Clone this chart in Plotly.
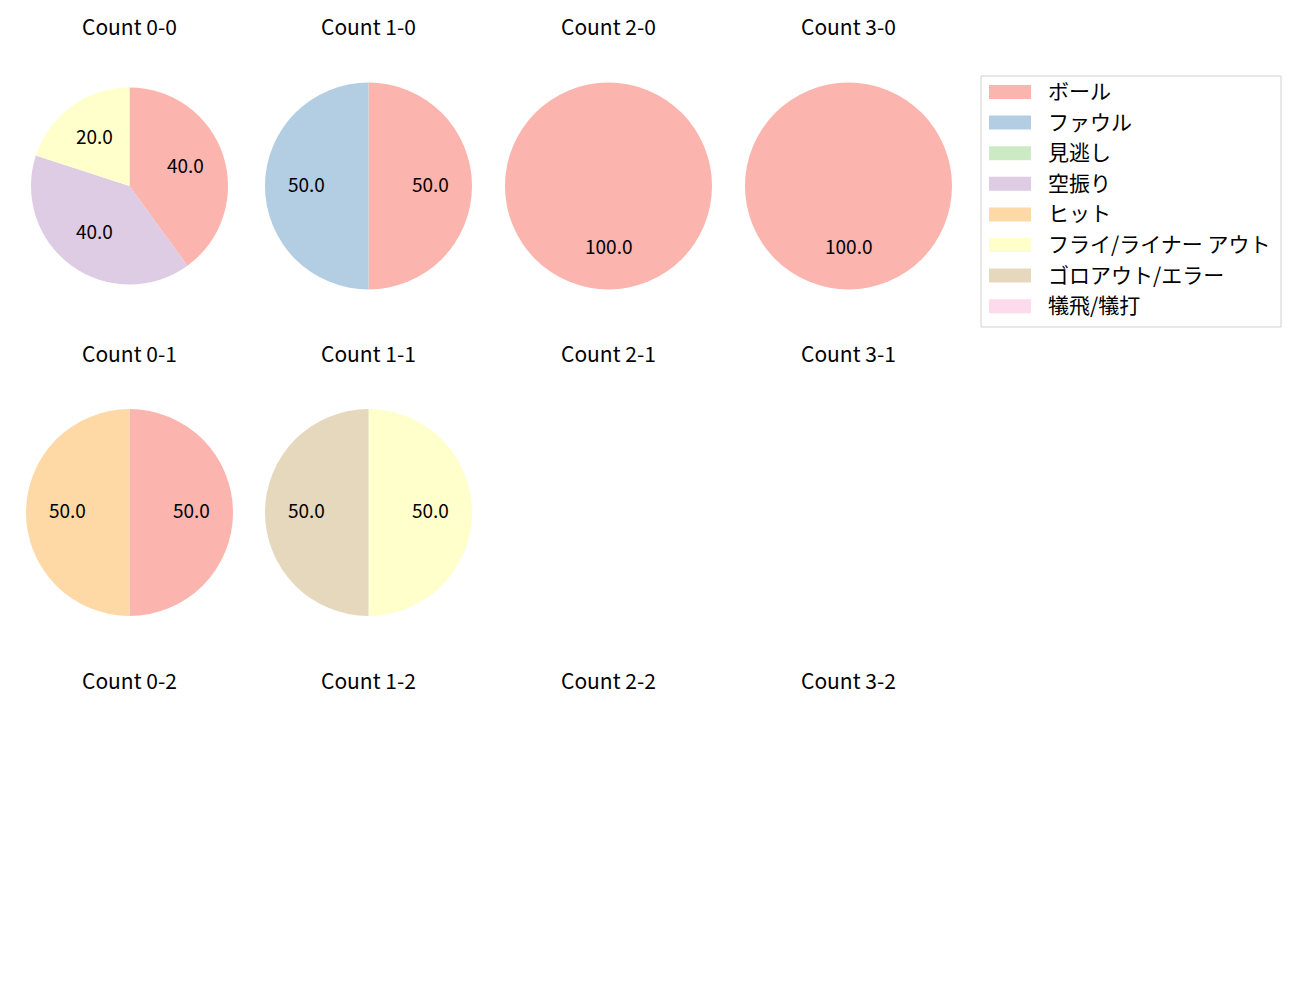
import math
import plotly.graph_objects as go

categories = ["ボール", "ファウル", "見逃し", "空振り", "ヒット",
              "フライ/ライナー アウト", "ゴロアウト/エラー", "犠飛/犠打"]
colors = ["#fbb4ae", "#b3cde3", "#ccebc5", "#decbe4", "#fed9a6",
          "#ffffcc", "#e5d8bd", "#fddaec"]

count_titles = [["Count 0-0", "Count 1-0", "Count 2-0", "Count 3-0"],
                ["Count 0-1", "Count 1-1", "Count 2-1", "Count 3-1"],
                ["Count 0-2", "Count 1-2", "Count 2-2", "Count 3-2"]]

values_0_0 = [40, 0, 0, 40, 0, 20, 0, 0]
values_1_0 = [50, 50, 0, 0, 0, 0, 0, 0]
values_2_0 = [100, 0, 0, 0, 0, 0, 0, 0]
values_3_0 = [100, 0, 0, 0, 0, 0, 0, 0]
values_0_1 = [50, 0, 0, 0, 50, 0, 0, 0]
values_1_1 = [0, 0, 0, 0, 0, 50, 50, 0]

pie_data = {
    (0, 0): values_0_0, (0, 1): values_1_0, (0, 2): values_2_0, (0, 3): values_3_0,
    (1, 0): values_0_1, (1, 1): values_1_1,
}

W, H = 1300, 1000
FONT = "Noto Sans CJK JP, Noto Sans, sans-serif"
col_cx = [129.5, 368.5, 608.5, 848.5]
row_cy = [186, 512.5, 839]
title_y = [26, 353, 680]
radius = {(0, 0): 98.5}
default_r = 103.5
TEXT_SHIFT = 3  # font baseline compensation (px)

fig = go.Figure()
annotations = []
shapes = []

for (r, c), vals in pie_data.items():
    cx, cy = col_cx[c], row_cy[r]
    rad = radius.get((r, c), default_r)
    labs = [cat for cat, v in zip(categories, vals) if v > 0]
    vv = [v for v in vals if v > 0]
    cols = [col for col, v in zip(colors, vals) if v > 0]
    fig.add_trace(go.Pie(
        labels=labs, values=vv, sort=False, direction="clockwise", rotation=0,
        marker=dict(colors=cols, line=dict(width=0)),
        textinfo="none", showlegend=False, hoverinfo="label+value",
        domain=dict(x=[(cx - rad) / W, (cx + rad) / W],
                    y=[1 - (cy + rad) / H, 1 - (cy - rad) / H]),
    ))
    total = sum(vv)
    cum = 0
    for v in vv:
        mid = 90 - 360 * (cum + v / 2) / total
        cum += v
        px = cx + 0.6 * rad * math.cos(math.radians(mid))
        py = cy - 0.6 * rad * math.sin(math.radians(mid)) - TEXT_SHIFT
        annotations.append(dict(
            x=px / W, y=1 - py / H, xref="paper", yref="paper",
            text=f"{100 * v / total:.1f}", showarrow=False,
            font=dict(family=FONT, size=19, color="black"),
            xanchor="center", yanchor="middle"))

for r in range(3):
    for c in range(4):
        annotations.append(dict(
            x=col_cx[c] / W, y=1 - title_y[r] / H, xref="paper", yref="paper",
            text=count_titles[r][c], showarrow=False,
            font=dict(family=FONT, size=21, color="black"),
            xanchor="center", yanchor="middle"))

# legend
lx0, ly0, lx1, ly1 = 981, 76, 1281, 327
shapes.append(dict(type="rect", xref="paper", yref="paper",
                   x0=lx0 / W, x1=lx1 / W, y0=1 - ly1 / H, y1=1 - ly0 / H,
                   line=dict(color="#d0d0d0", width=1), fillcolor="white"))
for i, (cat, col) in enumerate(zip(categories, colors)):
    yc = 92 + i * 30.6
    shapes.append(dict(type="rect", xref="paper", yref="paper",
                       x0=989 / W, x1=1031 / W,
                       y0=1 - (yc + 7) / H, y1=1 - (yc - 7) / H,
                       line=dict(width=0), fillcolor=col))
    annotations.append(dict(
        x=1046 / W, y=1 - (yc - 2) / H, xref="paper", yref="paper",
        text=cat, showarrow=False,
        font=dict(family=FONT, size=21, color="black"),
        xanchor="left", yanchor="middle"))

fig.update_layout(
    width=W, height=H, margin=dict(l=0, r=0, t=0, b=0),
    paper_bgcolor="white", plot_bgcolor="white",
    annotations=annotations, shapes=shapes, showlegend=False,
)

fig.write_html("out.html", config={"displayModeBar": False},
               post_script="document.body.style.margin='0px';"
                           "document.body.style.padding='0px';"
                           "document.body.style.overflow='hidden';")
